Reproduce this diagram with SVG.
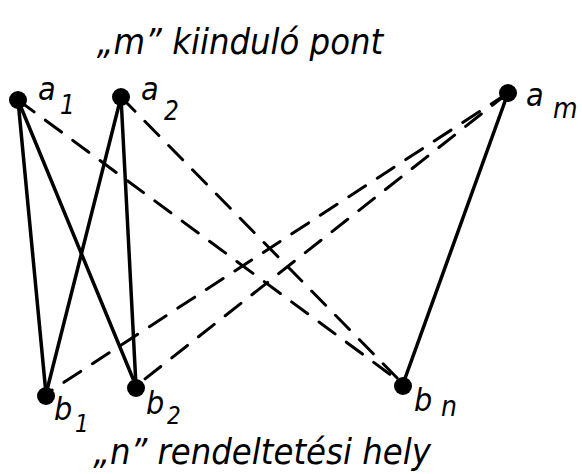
<svg xmlns="http://www.w3.org/2000/svg" width="582" height="474" viewBox="0 0 582 474">
<style>
.t{font-family:"DejaVu Sans Condensed","DejaVu Sans","Liberation Sans",sans-serif;font-stretch:condensed;font-style:italic;fill:#000}
.s{stroke:#000;stroke-width:3.5;fill:none;stroke-linecap:round}
.d{stroke:#000;stroke-width:3;fill:none;stroke-dasharray:20 14;stroke-linecap:round}
.n{fill:#000}
</style>
<rect width="582" height="474" fill="#fff"/>
<text class="t" x="240" y="54" font-size="36" text-anchor="middle">„m” kiinduló pont</text>
<text class="t" x="262" y="464" font-size="36" text-anchor="middle">„n” rendeltetési hely</text>
<g id="connectors">
<line class="s" x1="18" y1="100" x2="46" y2="394"/>
<line class="s" x1="18" y1="100" x2="136" y2="386"/>
<line class="s" x1="121" y1="97" x2="46" y2="394"/>
<line class="s" x1="121" y1="97" x2="136" y2="386"/>
<line class="s" x1="508" y1="93" x2="403" y2="384"/>
<line class="d" x1="18" y1="100" x2="403" y2="384"/>
<line class="d" x1="121" y1="97" x2="403" y2="384"/>
<line class="d" x1="508" y1="93" x2="46" y2="394"/>
<line class="d" x1="508" y1="93" x2="136" y2="386"/>
</g>
<g id="a1"><circle class="n" cx="18" cy="100" r="9"/><text class="t" x="38" y="100" font-size="32">a</text><text class="t" x="60" y="114" font-size="26">1</text></g>
<g id="a2"><circle class="n" cx="121" cy="97" r="9"/><text class="t" x="141" y="100" font-size="32">a</text><text class="t" x="164" y="120" font-size="26">2</text></g>
<g id="am"><circle class="n" cx="508" cy="93" r="9"/><text class="t" x="526" y="106" font-size="32">a</text><text class="t" x="553" y="118" font-size="28">m</text></g>
<g id="b1"><circle class="n" cx="46" cy="396" r="9"/><text class="t" x="54" y="420" font-size="32">b</text><text class="t" x="75" y="432" font-size="24">1</text></g>
<g id="b2"><circle class="n" cx="136" cy="388" r="9"/><text class="t" x="146" y="414" font-size="32">b</text><text class="t" x="167" y="424" font-size="24">2</text></g>
<g id="bn"><circle class="n" cx="403" cy="386" r="9"/><text class="t" x="414" y="411" font-size="32">b</text><text class="t" x="441" y="416" font-size="28">n</text></g>
</svg>
